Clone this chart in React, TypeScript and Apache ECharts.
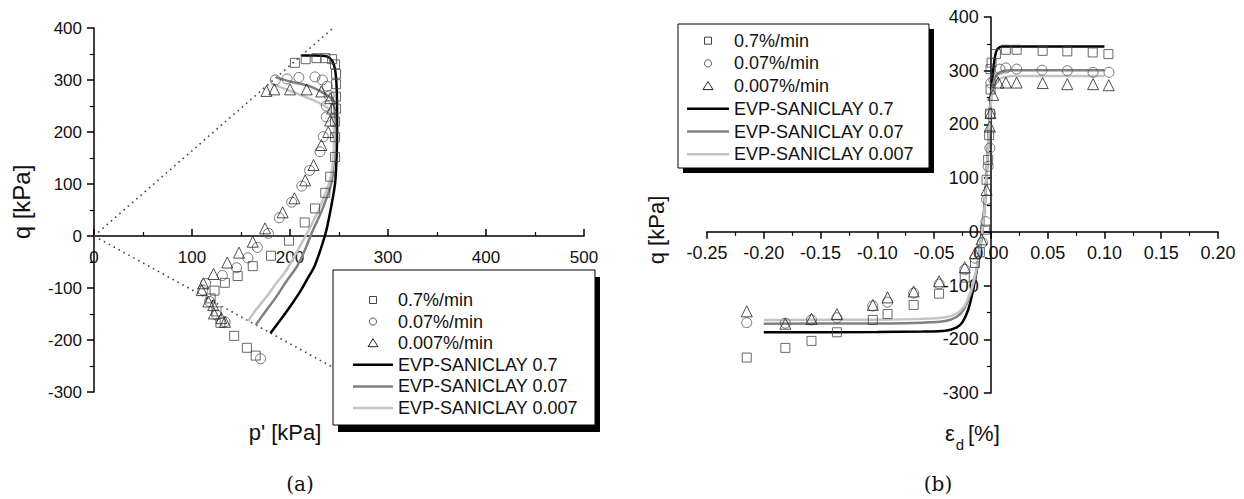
import React, { useEffect, useRef } from 'react';
import * as echarts from 'echarts';

const seriesNames = ['0.7%/min', '0.07%/min', '0.007%/min', 'EVP-SANICLAY 0.7', 'EVP-SANICLAY 0.07', 'EVP-SANICLAY 0.007'];

// ---------- (a) stress path p' - q ----------
const pqSquares = [
  [205, 333], [216, 340], [227, 342], [236, 342], [243, 340], [246, 330], [247, 312], [247, 292], [247, 268],
  [247, 245], [246, 220], [246, 190], [246, 152], [241, 114], [236, 83], [225.5, 53], [215, 26], [199, -9],
  [180.6, -38], [162, -58], [146.6, -77], [133.5, -90], [123, -105], [119, -120], [125, -145], [129, -167],
  [143, -192], [156, -215], [165, -230],
];
const pqCircles = [
  [185, 300], [197, 302], [209, 305], [225.5, 306], [233, 300], [238, 288], [240, 270], [237, 250], [237, 229],
  [234, 191], [230.6, 162], [220, 126], [212, 96], [201.7, 65], [189, 35], [178, 5], [166.7, -22], [157, -42],
  [145.5, -61], [131, -76], [114, -91], [111, -104], [118, -126], [125, -152], [133.7, -165], [170, -236],
];
const pqTriangles = [
  [176, 279], [184, 282], [200, 282], [217, 282], [232, 278], [241, 265], [243, 245], [241, 222], [239, 200],
  [232, 175], [224, 136.5], [215.5, 107], [204.5, 72.5], [192.5, 45.5], [174.5, 14.7], [162, -11], [148, -32],
  [136, -51], [122, -73], [111.6, -91], [110, -104], [116.7, -126], [121.7, -133], [122.4, -149], [130, -158],
  [133.7, -165],
];
const pqModel07 = [
  [180, -187], [190, -162], [200, -136], [210, -108], [217, -85], [225, -58], [231, -27], [237, 10], [242, 56],
  [246, 101], [247.5, 150], [248, 200], [248, 250], [247.5, 290], [246, 320], [243, 337], [238, 345], [225, 347], [212, 347],
];
const pqModel007 = [
  [165, -171], [175, -145], [186, -117], [196, -88], [207, -59], [215, -28], [222, 5], [228, 30], [234, 56],
  [242.5, 104], [245, 150], [246, 200], [245.5, 240], [243, 262], [236, 273], [220, 288], [200, 297], [186, 305],
];
const pqModel0007 = [
  [157.5, -163], [166, -140], [176, -117], [186, -91], [196.6, -65], [205, -37], [213.6, -8], [222, 22],
  [230.6, 56], [240.8, 108], [244, 146], [245, 190], [244, 225], [239, 245], [224, 261], [203, 277], [181, 293],
];
const cslCompression = [[0, 0], [244, 400]];
const cslExtension = [[0, 0], [250, -259]];

// ---------- (b) strain eps_d - q ----------
const eqSquares = [
  [-0.215, -234], [-0.181, -216], [-0.158, -203], [-0.1356, -187], [-0.104, -164], [-0.091, -153], [-0.068, -136],
  [-0.0456, -115], [-0.023, -85], [-0.014, -58], [-0.0097, -38], [-0.0053, 4], [-0.0038, 97], [-0.0024, 134],
  [-0.0015, 180], [-0.0008, 220], [-0.0003, 265], [-0.0003, 303], [0.0006, 315], [0.0044, 331], [0.0132, 339],
  [0.0227, 339], [0.0456, 337], [0.0673, 336], [0.0897, 334], [0.1035, 331],
];
const eqCircles = [
  [-0.215, -169], [-0.181, -170], [-0.158, -164], [-0.1356, -160], [-0.104, -138], [-0.091, -131], [-0.068, -114],
  [-0.0456, -97], [-0.023, -70], [-0.014, -49], [-0.0075, -20], [-0.0044, 19], [-0.0038, 60], [-0.0024, 122],
  [-0.0009, 156], [-0.0005, 220], [0.0, 277], [0.0026, 283], [0.008, 303], [0.0132, 305], [0.0227, 303],
  [0.045, 301], [0.0673, 300], [0.09, 297], [0.104, 297],
];
const eqTriangles = [
  [-0.215, -148], [-0.181, -171], [-0.158, -162], [-0.1356, -153], [-0.104, -136], [-0.091, -122], [-0.068, -111],
  [-0.0456, -92], [-0.023, -66], [-0.014, -40], [-0.0082, -14], [-0.0038, 78], [-0.0009, 196], [-0.0003, 221],
  [0.002, 255], [0.0065, 278], [0.0132, 278], [0.0227, 278], [0.0456, 277], [0.0673, 275], [0.09, 275], [0.1038, 273],
];
const eqModel07 = [
  [-0.2, -187], [-0.1, -186.5], [-0.06, -185.5], [-0.04, -184], [-0.03, -178], [-0.025, -168], [-0.02, -145],
  [-0.016, -112], [-0.013, -78], [-0.01, -35], [-0.008, -5], [-0.006, 40], [-0.004, 100], [-0.002, 180], [0, 255],
  [0.002, 300], [0.004, 330], [0.006, 341], [0.01, 345], [0.1, 345],
];
const eqModel007 = [
  [-0.2, -171], [-0.1, -170.5], [-0.06, -169], [-0.04, -166], [-0.03, -158], [-0.024, -145], [-0.019, -122],
  [-0.015, -95], [-0.012, -65], [-0.009, -25], [-0.006, 30], [-0.004, 95], [-0.002, 175], [0, 245], [0.002, 275],
  [0.005, 292], [0.01, 299], [0.02, 301], [0.1, 301],
];
const eqModel0007 = [
  [-0.2, -164], [-0.1, -163.5], [-0.06, -162], [-0.04, -159], [-0.03, -152], [-0.024, -140], [-0.019, -118],
  [-0.015, -90], [-0.012, -60], [-0.009, -20], [-0.006, 35], [-0.004, 100], [-0.002, 175], [0, 240], [0.002, 265],
  [0.005, 280], [0.01, 287], [0.02, 290], [0.1, 290],
];

const FONT = "'Liberation Sans', Arial, sans-serif";
const markerColors = ['#444', '#555', '#222'];
const markerSymbols = ['rect', 'circle', 'triangle'];
const markerSizes = [9, 10, 11];
const lineColors = ['#000000', '#808080', '#c4c4c4'];

const GA = { left: 94, top: 28, width: 490, height: 364 };
const GB = { left: 707, top: 17, width: 511, height: 376 };

function axisCommon(fontSize: number) {
  return {
    type: 'value' as const,
    axisLine: { show: true, onZero: false, lineStyle: { color: '#000', width: 1.5 } },
    axisTick: { show: true, length: 7, lineStyle: { color: '#000', width: 1.5 } },
    minorTick: { show: true, splitNumber: 2, length: 4, lineStyle: { color: '#000', width: 1.2 } },
    splitLine: { show: false },
    minorSplitLine: { show: false },
    axisLabel: { color: '#111', fontSize, fontFamily: FONT, hideOverlap: false },
  };
}

function panelSeries(idx: number, scatter: number[][][], models: number[][][]) {
  const out: any[] = [];
  models.forEach((d, i) => {
    out.push({
      name: seriesNames[3 + i], type: 'line', xAxisIndex: idx, yAxisIndex: idx, data: d,
      symbol: 'none', smooth: 0.3, lineStyle: { color: lineColors[i], width: 2.5 }, itemStyle: { color: lineColors[i] },
      z: 3,
    });
  });
  scatter.forEach((d, i) => {
    out.push({
      name: seriesNames[i], type: 'scatter', xAxisIndex: idx, yAxisIndex: idx, data: d,
      symbol: markerSymbols[i], symbolSize: markerSizes[i],
      itemStyle: { color: 'rgba(255,255,255,0)', borderColor: markerColors[i], borderWidth: 1 },
      z: 4,
    });
  });
  return out;
}

function legendGraphic(x: number, y: number, w: number, h: number, sx: number, sy: number,
  lineX1: number, lineX2: number, textX: number, row0: number, step: number) {
  const els: any[] = [
    { type: 'rect', z: 15, shape: { x: x + sx, y: y + sy, width: w, height: h }, style: { fill: '#000' } },
    { type: 'rect', z: 16, shape: { x, y, width: w, height: h }, style: { fill: '#fff', stroke: '#000', lineWidth: 1 } },
  ];
  const cx = (lineX1 + lineX2) / 2;
  seriesNames.forEach((name, i) => {
    const cy = row0 + i * step;
    if (i === 0) {
      els.push({ type: 'rect', z: 17, shape: { x: cx - 3.5, y: cy - 3.5, width: 7, height: 7 },
        style: { fill: 'none', stroke: markerColors[0], lineWidth: 1 } });
    } else if (i === 1) {
      els.push({ type: 'circle', z: 17, shape: { cx, cy, r: 3.6 },
        style: { fill: 'none', stroke: markerColors[1], lineWidth: 1 } });
    } else if (i === 2) {
      els.push({ type: 'polygon', z: 17, shape: { points: [[cx, cy - 4.5], [cx + 5, cy + 3.5], [cx - 5, cy + 3.5]] },
        style: { fill: 'none', stroke: markerColors[2], lineWidth: 1 } });
    } else {
      els.push({ type: 'line', z: 17, shape: { x1: lineX1, y1: cy, x2: lineX2, y2: cy },
        style: { stroke: lineColors[i - 3], lineWidth: 2.5 } });
    }
    els.push({ type: 'text', z: 17, x: textX, y: cy,
      style: { text: name, font: `18px ${FONT}`, fill: '#111', align: 'left', verticalAlign: 'middle' } });
  });
  return els;
}

export default function App() {
  const ref = useRef<HTMLDivElement>(null);
  useEffect(() => {
    if (!ref.current) return;
    const chart = echarts.init(ref.current, undefined, { renderer: 'svg' });
    // position of the zero lines inside each grid (used to move the crossing axes onto zero)
    const zeroYA = GA.top + GA.height * (400 / 700);
    const zeroYB = GB.top + GB.height * (400 / 700);
    const zeroXB = GB.left + GB.width * (0.25 / 0.45);
    const option: any = {
      animation: false,
      backgroundColor: '#fff',
      grid: [GA, GB],
      xAxis: [
        {
          ...axisCommon(17), gridIndex: 0, min: 0, max: 500, interval: 100, position: 'bottom',
          offset: -(GA.top + GA.height - zeroYA),
          axisTick: { show: true, inside: true, length: 7, lineStyle: { color: '#000', width: 1.5 } },
          minorTick: { show: true, splitNumber: 2, length: 4, lineStyle: { color: '#000', width: 1.2 } },
          axisLabel: { color: '#111', fontSize: 17, fontFamily: FONT, margin: 13, hideOverlap: false },
        },
        {
          ...axisCommon(18), gridIndex: 1, min: -0.25, max: 0.2, interval: 0.05, position: 'bottom',
          offset: -(GB.top + GB.height - zeroYB),
          axisLabel: { color: '#111', fontSize: 18, fontFamily: FONT, margin: 12, hideOverlap: false,
            formatter: (v: number) => v.toFixed(2) },
        },
      ],
      yAxis: [
        {
          ...axisCommon(17), gridIndex: 0, min: -300, max: 400, interval: 100, position: 'left',
          axisLabel: { color: '#111', fontSize: 17, fontFamily: FONT, margin: 12, hideOverlap: false },
        },
        {
          ...axisCommon(18), gridIndex: 1, min: -300, max: 400, interval: 100, position: 'left',
          offset: -(zeroXB - GB.left),
          axisLabel: { color: '#111', fontSize: 18, fontFamily: FONT, margin: 12, hideOverlap: false },
        },
      ],
      series: [
        {
          name: 'CSL compression', type: 'line', xAxisIndex: 0, yAxisIndex: 0, data: cslCompression, symbol: 'none',
          lineStyle: { color: '#444', width: 1.6, type: [1.6, 4] }, z: 2,
        },
        {
          name: 'CSL extension', type: 'line', xAxisIndex: 0, yAxisIndex: 0, data: cslExtension, symbol: 'none',
          lineStyle: { color: '#444', width: 1.6, type: [1.6, 4] }, z: 2,
        },
        ...panelSeries(0, [pqSquares, pqCircles, pqTriangles], [pqModel07, pqModel007, pqModel0007]),
        ...panelSeries(1, [eqSquares, eqCircles, eqTriangles], [eqModel07, eqModel007, eqModel0007]),
      ],
      graphic: [
        ...legendGraphic(333, 270, 262, 155, 5, 7, 353, 393, 398, 300, 21.6),
        ...legendGraphic(678, 24, 251, 144, 5, 5, 687, 729, 734, 40.7, 22.7),
        { type: 'text', x: 21, y: 202, rotation: Math.PI / 2, z: 20,
          style: { text: 'q [kPa]', font: `24px ${FONT}`, fill: '#111', align: 'center', verticalAlign: 'middle' } },
        { type: 'text', x: 656, y: 230, rotation: Math.PI / 2, z: 20,
          style: { text: 'q [kPa]', font: `22px ${FONT}`, fill: '#111', align: 'center', verticalAlign: 'middle' } },
        { type: 'text', x: 285, y: 432, z: 20,
          style: { text: "p' [kPa]", font: `22px ${FONT}`, fill: '#111', align: 'center', verticalAlign: 'middle' } },
        { type: 'text', x: 950, y: 433, z: 20,
          style: { text: 'ε', font: `22px ${FONT}`, fill: '#111', align: 'center', verticalAlign: 'middle' } },
        { type: 'text', x: 960, y: 444, z: 20,
          style: { text: 'd', font: `15px ${FONT}`, fill: '#111', align: 'center', verticalAlign: 'middle' } },
        { type: 'text', x: 968, y: 433, z: 20,
          style: { text: '[%]', font: `22px ${FONT}`, fill: '#111', align: 'left', verticalAlign: 'middle' } },
        { type: 'text', x: 300, y: 484, z: 20,
          style: { text: '(a)', font: `20px 'DejaVu Serif', 'Liberation Serif', serif`, fill: '#111', align: 'center', verticalAlign: 'middle' } },
        { type: 'text', x: 938, y: 484, z: 20,
          style: { text: '(b)', font: `20px 'DejaVu Serif', 'Liberation Serif', serif`, fill: '#111', align: 'center', verticalAlign: 'middle' } },
      ],
    };
    chart.setOption(option);
    return () => chart.dispose();
  }, []);
  return <div ref={ref} style={{ position: 'fixed', left: 0, top: 0, width: 1244, height: 499 }} />;
}
